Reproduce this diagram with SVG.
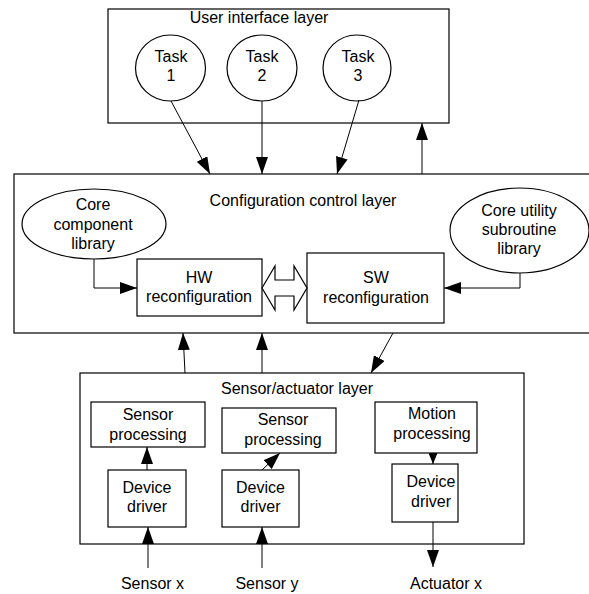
<svg xmlns="http://www.w3.org/2000/svg" width="589" height="594" viewBox="0 0 589 594">
<style>
.box{fill:#fff;stroke:#000;stroke-width:1.2}
.lyr{fill:none;stroke:#000;stroke-width:1.2}
text{font-family:"Liberation Sans",Arial,sans-serif;font-size:16px;fill:#000;text-anchor:middle}
.c{fill:none;stroke:#000;stroke-width:1}
</style>
<defs>
<marker id="ah" markerUnits="userSpaceOnUse" markerWidth="17" markerHeight="12" refX="17" refY="6" orient="auto">
<path d="M0,0 L17,6 L0,12 z" fill="#000"/>
</marker>
<marker id="ahs" markerUnits="userSpaceOnUse" markerWidth="11" markerHeight="9" refX="11" refY="4.5" orient="auto">
<path d="M0,0 L11,4.5 L0,9 z" fill="#000"/>
</marker>
</defs>
<rect x="0" y="0" width="589" height="594" fill="#fff"/>

<g id="ui-layer">
<rect class="lyr" x="108" y="9" width="341" height="114"/>
<text x="259" y="23">User interface layer</text>
</g>
<g id="task1">
<ellipse class="box" cx="170.5" cy="68" rx="35" ry="33"/>
<text x="171" y="62">Task</text><text x="171" y="81">1</text>
</g>
<g id="task2">
<ellipse class="box" cx="262" cy="68" rx="35" ry="33"/>
<text x="262" y="62">Task</text><text x="262" y="81">2</text>
</g>
<g id="task3">
<ellipse class="box" cx="357" cy="68" rx="34" ry="33"/>
<text x="358" y="62">Task</text><text x="358" y="81">3</text>
</g>

<g id="config-layer">
<rect class="lyr" x="14" y="174" width="590" height="159"/>
<text x="303" y="206">Configuration control layer</text>
</g>
<g id="core-component">
<ellipse class="box" cx="94" cy="224" rx="72" ry="35"/>
<text x="93" y="210">Core</text><text x="93" y="230">component</text><text x="93" y="249">library</text>
</g>
<g id="core-utility">
<ellipse class="box" cx="519.5" cy="230.5" rx="69.5" ry="42.5"/>
<text x="519" y="216">Core utility</text><text x="519" y="235">subroutine</text><text x="519" y="254">library</text>
</g>
<g id="hw">
<rect class="box" x="137" y="259" width="125" height="57"/>
<text x="199" y="283">HW</text><text x="199" y="302">reconfiguration</text>
</g>
<g id="sw">
<rect class="box" x="307" y="253" width="137" height="70"/>
<text x="376" y="283">SW</text><text x="376" y="303">reconfiguration</text>
</g>

<g id="sensor-layer">
<rect class="lyr" x="80" y="373" width="444" height="171"/>
<text x="297" y="394">Sensor/actuator layer</text>
</g>
<g id="sp1">
<rect class="box" x="91" y="402" width="114" height="45"/>
<text x="148" y="420">Sensor</text><text x="148" y="440">processing</text>
</g>
<g id="sp2">
<rect class="box" x="222" y="408" width="114" height="45"/>
<text x="283" y="425">Sensor</text><text x="283" y="445">processing</text>
</g>
<g id="mp">
<rect class="box" x="375" y="402" width="102" height="51"/>
<text x="432" y="419">Motion</text><text x="432" y="439">processing</text>
</g>
<g id="dd1">
<rect class="box" x="108" y="470" width="78" height="57"/>
<text x="147" y="493">Device</text><text x="147" y="512">driver</text>
</g>
<g id="dd2">
<rect class="box" x="222" y="470" width="77" height="57"/>
<text x="260.5" y="493">Device</text><text x="260.5" y="512">driver</text>
</g>
<g id="dd3">
<rect class="box" x="392" y="464" width="66" height="58"/>
<text x="431" y="487">Device</text><text x="431" y="507">driver</text>
</g>

<g id="labels">
<text x="152.5" y="589">Sensor x</text>
<text x="267" y="589">Sensor y</text>
<text x="446" y="589">Actuator x</text>
</g>

<g id="connectors">
<line class="c" x1="171" y1="101" x2="210" y2="174" marker-end="url(#ah)"/>
<line class="c" x1="262" y1="101" x2="262" y2="174" marker-end="url(#ah)"/>
<line class="c" x1="359" y1="100" x2="337" y2="174" marker-end="url(#ah)"/>
<line class="c" x1="422" y1="174" x2="422" y2="123" marker-end="url(#ah)"/>
<polyline class="c" points="94,259 94,288 137,288" marker-end="url(#ah)"/>
<polyline class="c" points="520,273 520,288 444,288" marker-end="url(#ah)"/>
<polygon class="box" points="262,288 275,266 275,280 294,280 294,266 307,288 294,310 294,296 275,296 275,310"/>
<line class="c" x1="185" y1="373" x2="183" y2="333" marker-end="url(#ah)"/>
<line class="c" x1="262" y1="373" x2="262" y2="333" marker-end="url(#ah)"/>
<line class="c" x1="393" y1="333" x2="371" y2="373" marker-end="url(#ah)"/>
<line class="c" x1="147" y1="470" x2="147" y2="447" marker-end="url(#ah)"/>
<line class="c" x1="262" y1="470" x2="280" y2="453" marker-end="url(#ah)"/>
<line class="c" x1="433" y1="453" x2="433" y2="464" marker-end="url(#ahs)"/>
<line class="c" x1="433" y1="522" x2="433" y2="567" marker-end="url(#ah)"/>
<line class="c" x1="148" y1="568" x2="148" y2="527" marker-end="url(#ah)"/>
<line class="c" x1="262" y1="568" x2="262" y2="527" marker-end="url(#ah)"/>
</g>
</svg>
